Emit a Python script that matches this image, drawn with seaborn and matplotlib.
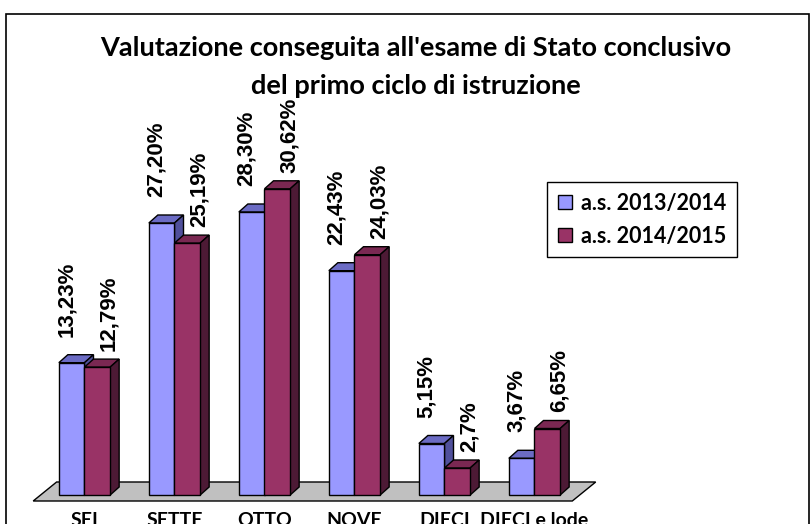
# Grafico a barre 3D: valutazione esame di Stato primo ciclo
import matplotlib
matplotlib.use("Agg")
import matplotlib.pyplot as plt
import seaborn as sns
import pandas as pd
from matplotlib.patches import Polygon, Rectangle, Patch

# Dati
categorie = ["SEI", "SETTE", "OTTO", "NOVE", "DIECI", "DIECI e lode"]
anno_2014 = [13.23, 27.20, 28.30, 22.43, 5.15, 3.67]
anno_2015 = [12.79, 25.19, 30.62, 24.03, 2.70, 6.65]
etichette_2014 = ["13,23%", "27,20%", "28,30%", "22,43%", "5,15%", "3,67%"]
etichette_2015 = ["12,79%", "25,19%", "30,62%", "24,03%", "2,7%", "6,65%"]
serie = ["a.s. 2013/2014", "a.s. 2014/2015"]

# Colori stile Excel (fronte, sopra, lato)
colori = ["#9999FF", "#993366"]
colori_top = ["#6B6BC4", "#7A2852"]
colori_lato = ["#50509C", "#4D1A35"]

df = pd.DataFrame({
    "categoria": categorie * 2,
    "valore": anno_2014 + anno_2015,
    "serie": [serie[0]] * len(categorie) + [serie[1]] * len(categorie),
})

titolo_font = "Lato"
label_font = "Liberation Sans"

fig = plt.figure(figsize=(8.11, 5.24), dpi=100)

# Assi posizionati in pixel: 90 px per categoria, 10 px per punto percentuale
px_cat, px_pct = 90.0, 10.0
x0_pix, base_pix = 84.5, 495.0
xmin, xmax = -0.9, 6.5
ymin, ymax = -1.65, 48.0
left = (x0_pix + xmin * px_cat) / 811
width = (xmax - xmin) * px_cat / 811
bottom = (524 - (base_pix - ymin * px_pct)) / 524
height = (ymax - ymin) * px_pct / 524
ax = fig.add_axes([left, bottom, width, height])

sns.barplot(data=df, x="categoria", y="valore", hue="serie", palette=colori,
            width=0.57, edgecolor="black", linewidth=1, saturation=1,
            legend=False, ax=ax)

ax.set_xlim(xmin, xmax)
ax.set_ylim(ymin, ymax)
for s in ax.spines.values():
    s.set_visible(False)
ax.set_yticks([])
ax.set_xlabel("")
ax.set_ylabel("")
ax.tick_params(axis="x", length=0, pad=0)
for t in ax.get_xticklabels():
    t.set_fontfamily(titolo_font)
    t.set_fontweight("bold")
    t.set_fontsize(14)
ax.patch.set_alpha(0)

# Pavimento grigio
n = len(categorie)
pavimento = Polygon([(-0.57, -0.6), (-0.31, 1.3), (n - 0.32, 1.3), (n - 0.58, -0.6)],
                    closed=True, facecolor="#C0C0C0", edgecolor="black", lw=1, zorder=0.5)
ax.add_patch(pavimento)

# Effetto 3D: faccia superiore e laterale
dx, dy = 0.1, 0.8
etichette = [etichette_2014, etichette_2015]
offset_x = [-0.06, 0.13]
offset_y = [2.6, 1.6]
for i, cont in enumerate(ax.containers):
    for j, bar in enumerate(cont):
        x = bar.get_x()
        w = bar.get_width()
        h = bar.get_height()
        bar.set_zorder(3)
        z = 2 + 0.5 * i
        top = Polygon([(x, h), (x + dx, h + dy), (x + w + dx, h + dy), (x + w, h)],
                      closed=True, facecolor=colori_top[i], edgecolor="black", lw=1, zorder=z)
        lato = Polygon([(x + w, 0), (x + w, h), (x + w + dx, h + dy), (x + w + dx, dy)],
                       closed=True, facecolor=colori_lato[i], edgecolor="black", lw=1, zorder=z)
        ax.add_patch(top)
        ax.add_patch(lato)
        ax.text(x + w / 2 + offset_x[i], h + offset_y[i], etichette[i][j],
                rotation=90, ha="center", va="bottom", fontsize=16,
                fontweight="bold", family=label_font, zorder=4)

# Titolo
fig.text(0.513, 1 - 67 / 524, "Valutazione conseguita all'esame di Stato conclusivo\ndel primo ciclo di istruzione",
         ha="center", va="center", fontsize=19.5, fontweight="bold", family=titolo_font,
         linespacing=1.65)

# Legenda
maniglie = [Patch(facecolor=c, edgecolor="black", lw=1) for c in colori]
leg = fig.legend(maniglie, serie, loc="upper left", bbox_to_anchor=(547 / 811, 1 - 182 / 524),
                 frameon=True, fancybox=False, framealpha=1, edgecolor="black",
                 handlelength=0.65, handleheight=0.65, handletextpad=0.45,
                 borderaxespad=0, borderpad=0.5, labelspacing=0.55,
                 prop={"family": titolo_font, "weight": "bold", "size": 15.5})
leg.get_frame().set_linewidth(1)

# Bordo dell'area del grafico
bordo = Rectangle((6 / 811, -0.1), (809 - 6) / 811, 1.1 - 14 / 524, transform=fig.transFigure,
                  fill=False, edgecolor="black", lw=1.2)
fig.patches.append(bordo)

fig.savefig("out.png", dpi=100)
